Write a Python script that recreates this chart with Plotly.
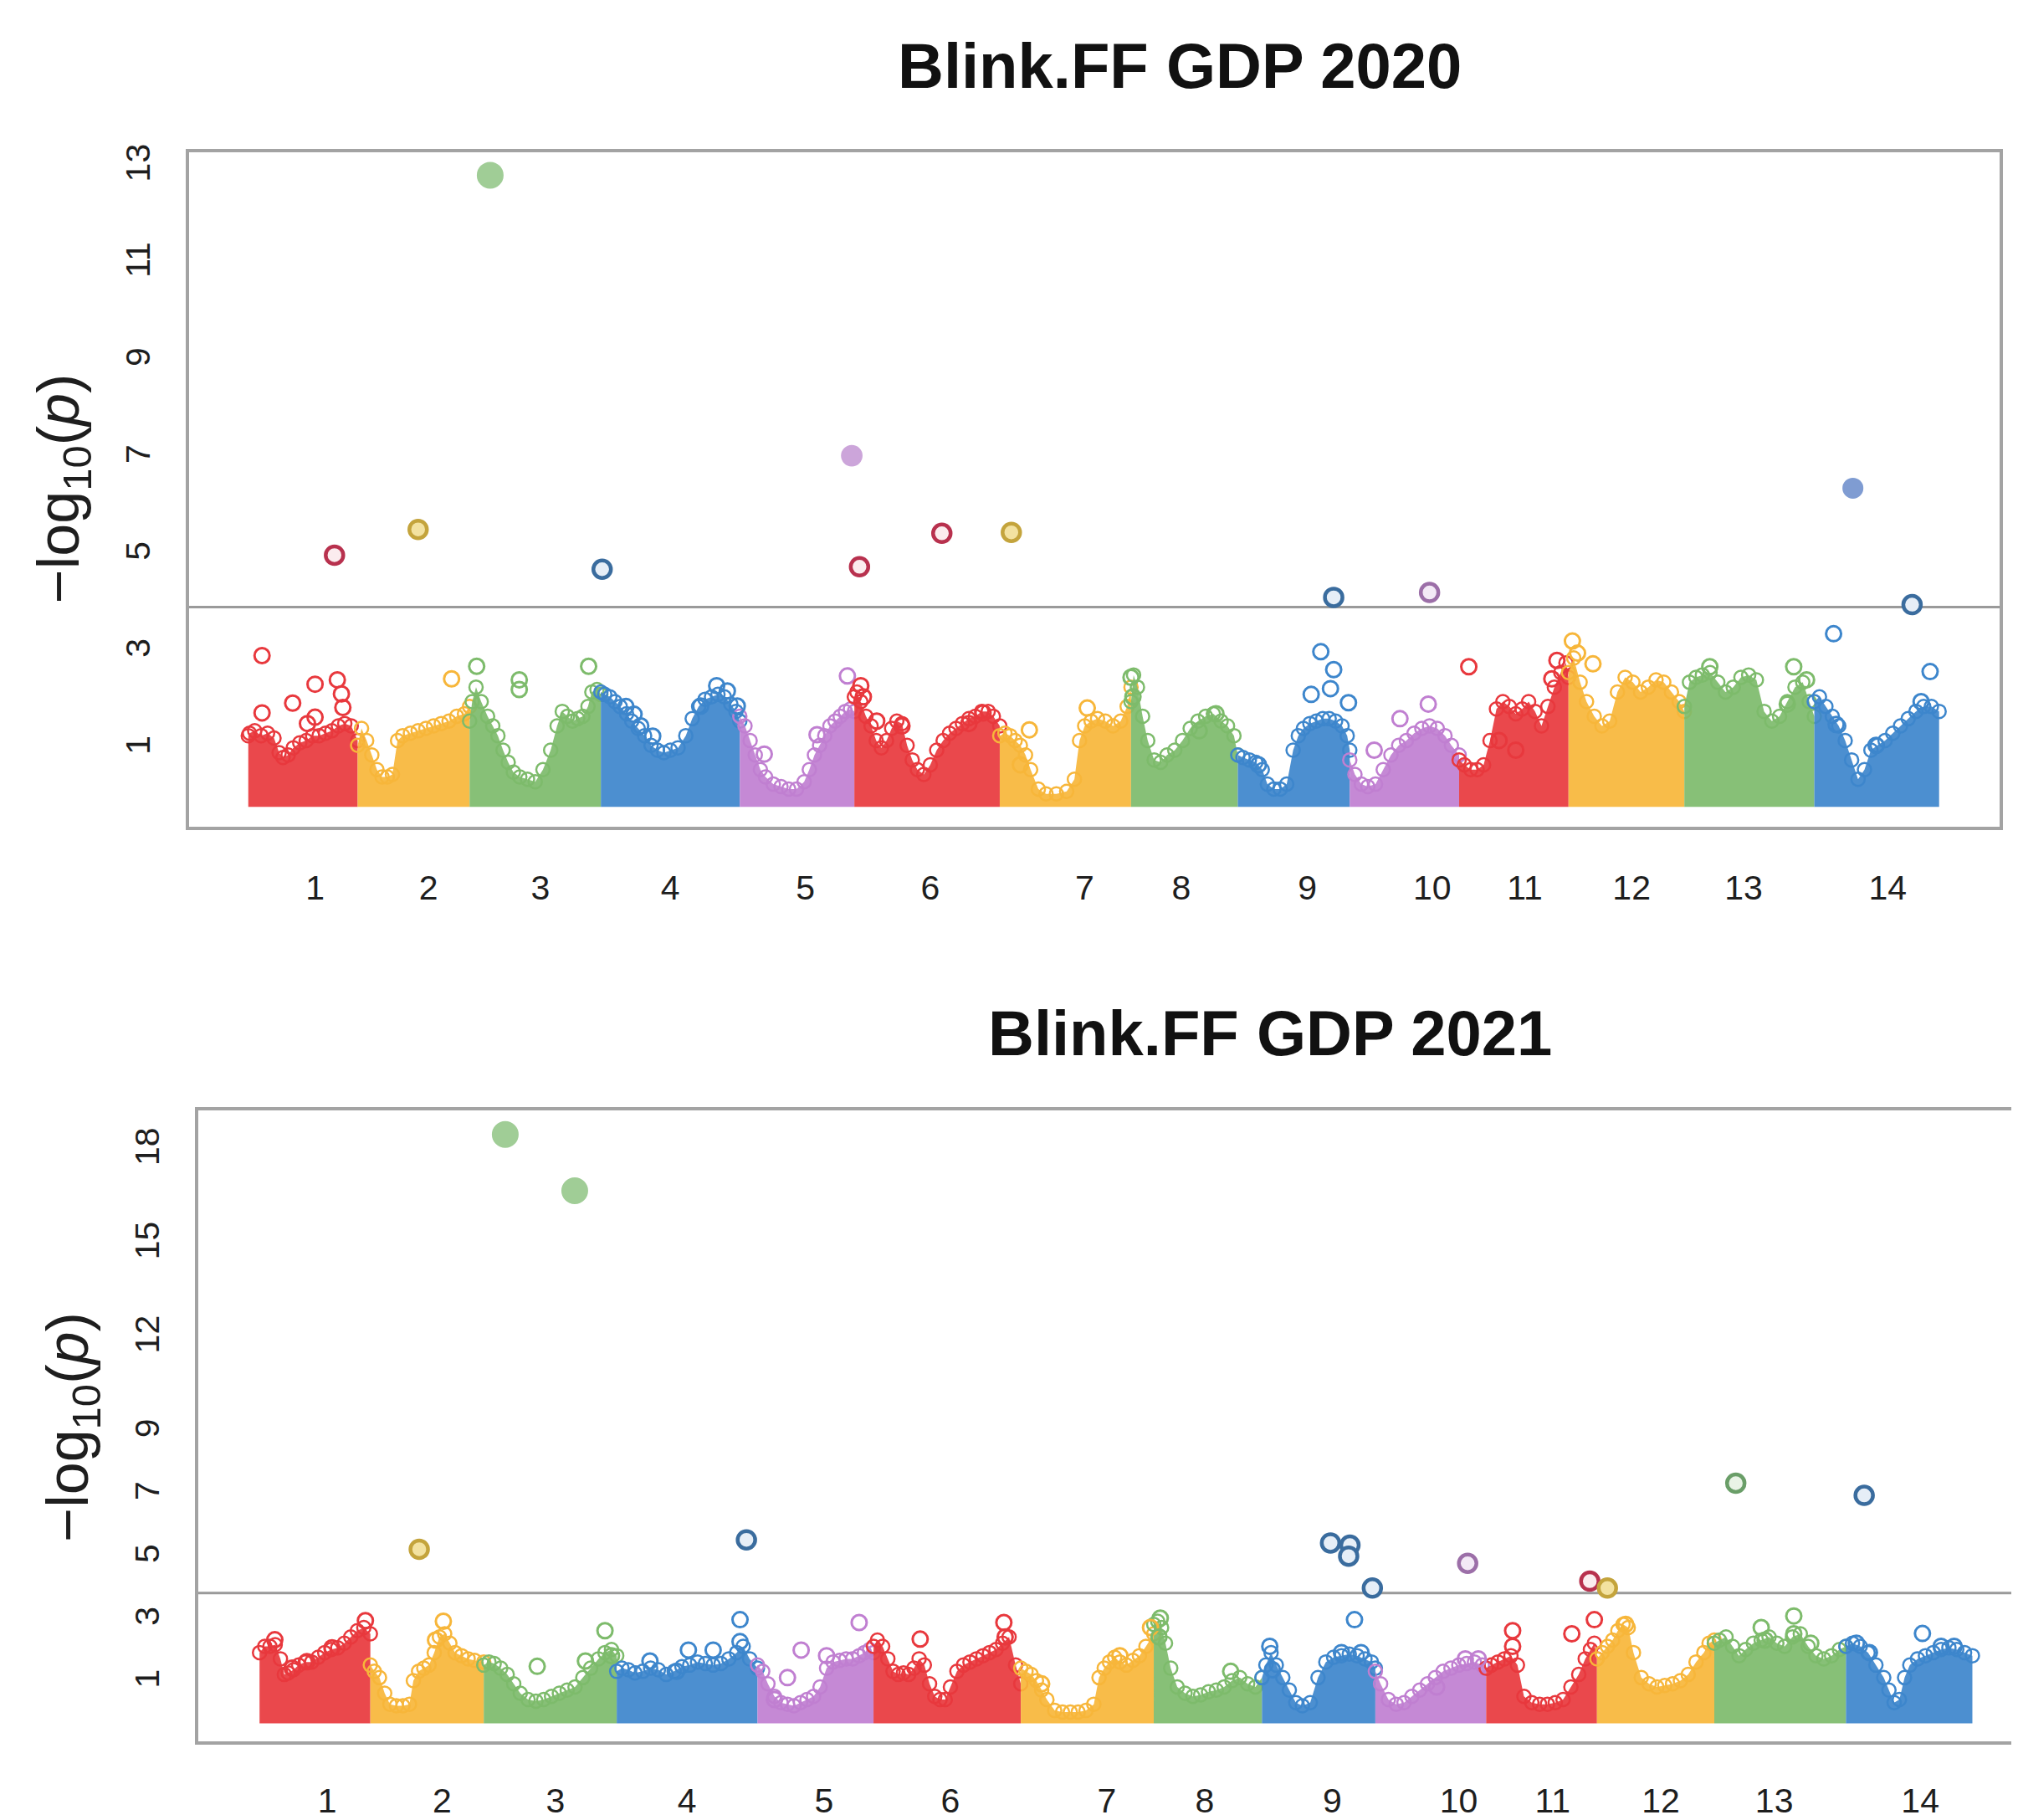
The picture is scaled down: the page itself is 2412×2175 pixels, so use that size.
import bisect
import plotly.graph_objects as go

# ---------------- genome layout (cumulative Mb) ----------------
CHR_LABELS = ["1", "2", "3", "4", "5", "6", "7", "8", "9", "10", "11", "12", "13", "14"]
CHR_START = [0, 85, 172, 274, 382, 471, 584, 686, 769, 856, 941, 1026, 1116, 1217]
CHR_END = [85, 172, 274, 382, 471, 584, 686, 769, 856, 941, 1026, 1116, 1217, 1314]
TICK_POS = [52, 140, 227, 328, 433, 530, 650, 725, 823, 920, 992, 1075, 1162, 1274]

Y_TICKS_2020 = [1, 3, 5, 7, 9, 11, 13]
Y_TICKS_2021 = [1, 3, 5, 7, 9, 12, 15, 18]
THRESH_2020 = 3.95
THRESH_2021 = 3.9

# ---------------- 2020: upper envelope of the dense SNP cloud, per chromosome ----------------
T01_POS = [0, 1, 5, 10, 15, 20, 24, 27, 31, 35, 40, 45, 50, 55, 60, 65, 70, 75, 80, 85]
T01_LOG = [1.3, 1.35, 1.4, 1.3, 1.35, 1.25, 0.95, 0.85, 0.9, 1.05, 1.15, 1.2, 1.3, 1.3, 1.35, 1.4, 1.5, 1.55, 1.5, 1.2]
T02_POS = [85, 88, 92, 96, 100, 104, 108, 112, 116, 120, 126, 132, 138, 144, 150, 156, 162, 168, 172]
T02_LOG = [1.1, 1.45, 1.2, 0.9, 0.6, 0.45, 0.45, 0.5, 1.2, 1.3, 1.35, 1.4, 1.45, 1.5, 1.55, 1.6, 1.7, 1.75, 1.9]
T03_POS = [172, 174, 177, 181, 186, 190, 194, 198, 202, 206, 211, 217, 223, 229, 235, 240, 244, 248, 252, 256, 260, 264, 267, 271, 274]
T03_LOG = [1.6, 2.0, 2.3, 2.0, 1.7, 1.5, 1.3, 1.0, 0.75, 0.55, 0.45, 0.4, 0.35, 0.6, 1.0, 1.5, 1.8, 1.7, 1.6, 1.65, 1.7, 1.9, 2.2, 2.25, 2.15]
T04_POS = [274, 277, 281, 285, 289, 294, 298, 303, 308, 313, 318, 323, 328, 334, 340, 345, 350, 355, 360, 365, 370, 375, 379, 382]
T04_LOG = [2.2, 2.15, 2.1, 2.0, 1.9, 1.75, 1.6, 1.45, 1.3, 1.1, 1.0, 0.95, 1.0, 1.05, 1.3, 1.65, 1.9, 2.05, 2.1, 2.15, 2.1, 1.95, 1.8, 1.6]
T05_POS = [382, 386, 390, 394, 398, 402, 408, 414, 420, 426, 432, 436, 440, 444, 448, 452, 456, 460, 464, 468, 471]
T05_LOG = [1.7, 1.5, 1.2, 0.9, 0.6, 0.45, 0.3, 0.25, 0.2, 0.2, 0.35, 0.6, 0.9, 1.1, 1.3, 1.5, 1.6, 1.7, 1.8, 1.85, 1.8]
T06_POS = [471, 473, 476, 480, 484, 488, 492, 496, 500, 504, 508, 512, 516, 520, 525, 530, 535, 540, 545, 550, 555, 560, 565, 570, 575, 579, 584]
T06_LOG = [2.1, 2.2, 2.0, 1.7, 1.5, 1.2, 1.05, 1.2, 1.45, 1.6, 1.55, 1.1, 0.8, 0.6, 0.5, 0.7, 1.0, 1.2, 1.35, 1.45, 1.55, 1.65, 1.7, 1.8, 1.8, 1.7, 1.5]
T07_POS = [584, 588, 592, 596, 600, 604, 608, 614, 620, 628, 636, 642, 646, 650, 655, 660, 666, 672, 678, 683, 686]
T07_LOG = [1.3, 1.35, 1.3, 1.2, 1.1, 0.9, 0.6, 0.2, 0.1, 0.1, 0.15, 0.4, 1.2, 1.5, 1.6, 1.65, 1.6, 1.5, 1.6, 1.9, 2.3]
T08_POS = [686, 688, 691, 695, 699, 704, 709, 714, 720, 726, 732, 738, 744, 750, 756, 761, 766, 769]
T08_LOG = [2.0, 2.55, 2.3, 1.7, 1.2, 0.8, 0.75, 0.9, 1.0, 1.2, 1.45, 1.6, 1.7, 1.75, 1.6, 1.5, 1.3, 0.9]
T09_POS = [769, 773, 778, 783, 788, 792, 797, 802, 807, 812, 816, 820, 825, 830, 835, 840, 845, 850, 854, 856]
T09_LOG = [0.9, 0.85, 0.8, 0.75, 0.6, 0.3, 0.2, 0.2, 0.3, 1.0, 1.3, 1.45, 1.55, 1.6, 1.65, 1.65, 1.6, 1.5, 1.3, 1.0]
T10_POS = [856, 860, 865, 870, 876, 882, 888, 894, 900, 906, 912, 918, 924, 930, 935, 941]
T10_LOG = [0.8, 0.5, 0.3, 0.25, 0.3, 0.6, 0.9, 1.1, 1.2, 1.35, 1.45, 1.5, 1.45, 1.3, 1.1, 0.9]
T11_POS = [941, 945, 950, 955, 960, 965, 970, 975, 980, 985, 990, 995, 1000, 1005, 1010, 1015, 1020, 1024, 1026]
T11_LOG = [0.8, 0.7, 0.6, 0.6, 0.7, 1.2, 1.85, 2.0, 1.9, 1.75, 1.85, 2.0, 1.8, 1.5, 1.9, 2.3, 2.6, 2.8, 2.5]
T12_POS = [1026, 1030, 1035, 1040, 1046, 1052, 1058, 1064, 1070, 1076, 1082, 1088, 1094, 1100, 1106, 1112, 1116]
T12_LOG = [2.6, 2.9, 2.4, 2.0, 1.7, 1.5, 1.6, 2.2, 2.5, 2.4, 2.2, 2.3, 2.45, 2.4, 2.2, 2.0, 1.8]
T13_POS = [1116, 1120, 1125, 1130, 1136, 1142, 1148, 1154, 1160, 1166, 1172, 1178, 1184, 1190, 1196, 1202, 1208, 1213, 1217]
T13_LOG = [1.9, 2.4, 2.5, 2.55, 2.6, 2.4, 2.2, 2.3, 2.5, 2.55, 2.45, 1.8, 1.6, 1.7, 2.0, 2.3, 2.4, 2.0, 1.7]
T14_POS = [1217, 1221, 1226, 1231, 1236, 1241, 1246, 1251, 1256, 1261, 1266, 1272, 1278, 1284, 1290, 1296, 1302, 1308, 1314]
T14_LOG = [2.0, 2.1, 1.9, 1.7, 1.5, 1.2, 0.8, 0.4, 0.6, 1.0, 1.1, 1.2, 1.35, 1.5, 1.65, 1.8, 1.9, 1.9, 1.8]

# 2020: individually visible SNPs above the cloud (below threshold)
TOP_SNP_POS = [10.7, 10.7, 34.5, 51.9, 51.9, 69.2, 72.4, 73.5, 46, 158, 177.5, 210.6, 210.6, 264.5,
               293.5, 299.8, 314.3, 351.6, 364, 372.3, 380, 305, 401, 442, 465.6, 476, 478, 488.4, 508, 571, 560,
               607, 652, 600, 686, 687.5, 739, 752, 785, 833.5, 843.5, 826, 841, 855, 875, 895, 917, 948.5, 972,
               985, 1017, 1013, 1029, 1045, 1033, 1135.8, 1201, 1211, 1196, 1232, 1234, 1307, 1265, 1300]
TOP_SNP_LOG = [2.95, 1.77, 1.97, 2.36, 1.68, 2.45, 2.16, 1.88, 1.55, 2.47, 2.73, 2.45, 2.25, 2.73,
               1.9, 1.74, 1.29, 1.91, 2.33, 2.22, 1.91, 1.5, 0.92, 1.32, 2.53, 2.33, 2.1, 1.6, 1.5, 1.77, 1.55,
               1.42, 1.87, 0.7, 2.5, 2.1, 1.4, 1.75, 0.7, 3.03, 2.66, 2.15, 2.27, 1.98, 1.0, 1.65, 1.95, 2.72, 1.2,
               1.0, 2.85, 2.47, 3.25, 2.78, 3.0, 2.72, 2.72, 2.45, 1.95, 3.4, 1.53, 2.62, 1.1, 2.0]
# 2020: significant SNPs (lead = filled, hit = ringed)
TOP_LEAD_POS = [188, 469, 1247]
TOP_LEAD_LOG = [12.85, 7.07, 6.4]
TOP_HIT_POS = [67, 132, 275, 475, 539, 593, 843.5, 918, 1293]
TOP_HIT_LOG = [5.02, 5.55, 4.73, 4.78, 5.47, 5.49, 4.15, 4.25, 4.0]

# ---------------- 2021 ----------------
B01_POS = [0, 4, 8, 12, 16, 19, 22, 26, 30, 35, 40, 45, 50, 55, 60, 65, 70, 75, 80, 85]
B01_LOG = [2.0, 2.2, 2.2, 2.25, 1.8, 1.3, 1.35, 1.45, 1.6, 1.7, 1.7, 1.85, 2.0, 2.1, 2.15, 2.3, 2.5, 2.7, 2.8, 2.6]
B02_POS = [85, 88, 92, 96, 100, 105, 110, 115, 118, 122, 126, 130, 134, 138, 142, 146, 150, 155, 160, 165, 172]
B02_LOG = [1.6, 1.4, 1.2, 0.7, 0.35, 0.3, 0.3, 0.35, 1.1, 1.4, 1.5, 1.6, 2.0, 2.5, 2.6, 2.3, 2.0, 1.9, 1.8, 1.75, 1.7]
B03_POS = [172, 176, 180, 185, 190, 195, 200, 206, 212, 218, 224, 230, 236, 242, 248, 254, 260, 265, 270, 274]
B03_LOG = [1.6, 1.7, 1.65, 1.5, 1.3, 1.0, 0.7, 0.5, 0.45, 0.5, 0.6, 0.7, 0.8, 0.9, 1.2, 1.5, 1.8, 2.0, 2.1, 1.9]
B04_POS = [274, 278, 283, 288, 294, 300, 306, 312, 318, 324, 330, 336, 342, 348, 354, 360, 366, 371, 376, 382]
B04_LOG = [1.4, 1.5, 1.45, 1.35, 1.4, 1.5, 1.45, 1.3, 1.4, 1.55, 1.6, 1.7, 1.65, 1.6, 1.65, 1.8, 2.0, 2.2, 1.8, 1.5]
B05_POS = [382, 386, 390, 395, 400, 405, 410, 415, 420, 425, 430, 435, 440, 445, 450, 455, 460, 464, 468, 471]
B05_LOG = [1.6, 1.4, 1.0, 0.6, 0.4, 0.35, 0.3, 0.4, 0.5, 0.6, 0.9, 1.5, 1.7, 1.75, 1.8, 1.8, 1.9, 2.0, 2.1, 2.0]
B06_POS = [471, 474, 478, 482, 486, 490, 494, 498, 502, 506, 510, 514, 518, 522, 526, 530, 535, 540, 545, 550, 555, 560, 565, 570, 575, 580, 584]
B06_LOG = [2.2, 2.4, 2.2, 1.8, 1.4, 1.3, 1.35, 1.3, 1.5, 1.8, 1.6, 1.0, 0.6, 0.5, 0.5, 0.9, 1.4, 1.6, 1.7, 1.8, 1.9, 2.0, 2.1, 2.3, 2.5, 1.6, 1.0]
B07_POS = [584, 588, 592, 596, 600, 604, 610, 616, 622, 628, 634, 640, 644, 648, 652, 656, 660, 665, 670, 675, 680, 686]
B07_LOG = [1.5, 1.4, 1.3, 1.1, 0.8, 0.5, 0.15, 0.1, 0.1, 0.1, 0.15, 0.35, 1.2, 1.5, 1.7, 1.85, 1.7, 1.6, 1.75, 1.9, 2.2, 2.6]
B08_POS = [686, 689, 692, 695, 699, 704, 710, 716, 722, 728, 734, 740, 746, 752, 758, 764, 769]
B08_LOG = [2.9, 3.0, 2.8, 2.3, 1.5, 0.9, 0.7, 0.6, 0.65, 0.75, 0.8, 0.9, 1.1, 1.2, 1.0, 0.9, 1.2]
B09_POS = [769, 772, 776, 780, 785, 790, 795, 800, 806, 812, 818, 824, 830, 836, 842, 848, 853, 856]
B09_LOG = [1.2, 1.6, 2.0, 1.6, 1.2, 0.8, 0.4, 0.3, 0.4, 1.2, 1.7, 1.85, 1.9, 1.95, 1.9, 1.8, 1.7, 1.5]
B10_POS = [856, 860, 866, 872, 878, 884, 890, 896, 902, 908, 914, 920, 926, 932, 938, 941]
B10_LOG = [1.4, 1.0, 0.5, 0.35, 0.4, 0.6, 0.8, 1.0, 1.2, 1.4, 1.5, 1.6, 1.65, 1.7, 1.6, 1.5]
B11_POS = [941, 945, 950, 955, 960, 965, 970, 976, 982, 988, 994, 1000, 1006, 1012, 1017, 1021, 1024, 1026]
B11_LOG = [1.5, 1.6, 1.7, 1.8, 1.9, 1.6, 0.6, 0.4, 0.35, 0.35, 0.4, 0.5, 0.9, 1.3, 1.8, 2.1, 2.3, 1.8]
B12_POS = [1026, 1030, 1034, 1038, 1042, 1046, 1050, 1054, 1060, 1066, 1072, 1078, 1084, 1090, 1096, 1102, 1108, 1112, 1116]
B12_LOG = [1.8, 2.0, 2.2, 2.4, 2.7, 2.9, 2.8, 2.0, 1.2, 1.0, 0.9, 0.95, 1.0, 1.1, 1.3, 1.7, 2.0, 2.3, 2.4]
B13_POS = [1116, 1120, 1125, 1130, 1135, 1140, 1146, 1152, 1158, 1164, 1170, 1176, 1182, 1188, 1194, 1200, 1206, 1212, 1217]
B13_LOG = [2.3, 2.4, 2.5, 2.2, 1.9, 2.1, 2.3, 2.4, 2.5, 2.3, 2.2, 2.5, 2.6, 2.2, 1.9, 1.8, 1.9, 2.1, 2.2]
B14_POS = [1217, 1222, 1228, 1234, 1240, 1246, 1250, 1254, 1258, 1262, 1266, 1272, 1278, 1284, 1290, 1296, 1302, 1308, 1314]
B14_LOG = [2.2, 2.3, 2.2, 2.0, 1.6, 1.2, 0.8, 0.4, 0.5, 1.2, 1.6, 1.8, 1.9, 2.0, 2.1, 2.15, 2.1, 2.0, 1.9]

BOT_SNP_POS = [11.7, 36.3, 55.6, 81.2, 25, 141, 135, 213, 250, 265, 270, 299.5, 329, 348, 368.6, 368.6, 320,
               415.5, 405, 435, 460, 395, 506.8, 571, 572, 600, 660, 691, 683.5, 690, 745, 775, 777, 840, 830, 845,
               903, 925, 935, 961.3, 961.3, 1006.7, 1024, 1048, 1152, 1177, 1177, 1155, 1190, 1225, 1235, 1275.7, 1300, 1290]
BOT_SNP_LOG = [2.41, 1.71, 2.15, 3.02, 1.5, 3.0, 2.4, 1.56, 1.73, 2.7, 1.9, 1.73, 2.08, 2.08, 3.05, 2.35, 1.4,
               2.08, 1.2, 1.9, 2.96, 0.5, 2.43, 2.96, 2.5, 1.0, 1.9, 3.1, 2.8, 2.5, 1.4, 2.2, 1.45, 3.05, 2.0, 2.0,
               0.9, 1.8, 1.8, 2.7, 2.2, 2.6, 3.05, 2.9, 2.8, 3.17, 2.6, 2.4, 2.3, 2.3, 2.0, 2.61, 2.2, 2.2]
BOT_LEAD_POS = [188.5, 241.8]
BOT_LEAD_LOG = [18.55, 16.75]
BOT_HIT_POS = [122.5, 373.5, 821.6, 836.5, 835.5, 853.7, 926.8, 1020.5, 1034, 1132.5, 1231]
BOT_HIT_LOG = [5.3, 5.6, 5.5, 5.43, 5.08, 4.06, 4.85, 4.28, 4.06, 7.41, 7.02]

TOP_ENV = [(T01_POS, T01_LOG), (T02_POS, T02_LOG), (T03_POS, T03_LOG), (T04_POS, T04_LOG), (T05_POS, T05_LOG),
           (T06_POS, T06_LOG), (T07_POS, T07_LOG), (T08_POS, T08_LOG), (T09_POS, T09_LOG), (T10_POS, T10_LOG),
           (T11_POS, T11_LOG), (T12_POS, T12_LOG), (T13_POS, T13_LOG), (T14_POS, T14_LOG)]
BOT_ENV = [(B01_POS, B01_LOG), (B02_POS, B02_LOG), (B03_POS, B03_LOG), (B04_POS, B04_LOG), (B05_POS, B05_LOG),
           (B06_POS, B06_LOG), (B07_POS, B07_LOG), (B08_POS, B08_LOG), (B09_POS, B09_LOG), (B10_POS, B10_LOG),
           (B11_POS, B11_LOG), (B12_POS, B12_LOG), (B13_POS, B13_LOG), (B14_POS, B14_LOG)]

# ---------------- styling ----------------
SCREEN_W, SCREEN_H = 2412, 2175
PAGE_MARGIN = 8  # default <body> margin of the html page
W, H = SCREEN_W - PAGE_MARGIN, SCREEN_H - PAGE_MARGIN
PALETTE = ["#E8383D", "#F7B63A", "#7DBB6B", "#3D86CC", "#C07FD1"]
RING = ["#B8314E", "#C4A43C", "#6A9E68", "#3A6C9E", "#9C6FA8"]
HIT_FILL = ["#FBECEE", "#F3E2A0", "#E9F3E6", "#E6EEF7", "#F3EAF6"]
LEAD = ["#E8383D", "#E9B23A", "#79B86B", "#4A73C0", "#B77FCB"]
FONT = "Liberation Sans, Arial, sans-serif"
AXIS_COLOR = "#a3a3a3"
CLOUD_SIZE = 16
SNP_SIZE = 18
HIT_SIZE = 21

# panel geometry in screenshot pixels
TOP_BOX = dict(l=226, r=2390, t=175, b=995)
BOT_BOX = dict(l=237, r=SCREEN_W, t=1340, b=2107)
TOP_XR = [-46, 1361]
BOT_XR = [-47, 1349]
TOP_YR = [-0.58, 13.32]
BOT_YR = [-0.84, 19.31]


def px(xs):
    return (xs - PAGE_MARGIN) / W


def py(ys):
    return 1 - (ys - PAGE_MARGIN) / H


def chrom_index(pos):
    return max(0, bisect.bisect_right(CHR_START, pos) - 1)


fig = go.Figure()


def add_panel(env, snp_pos, snp_log, lead_pos, lead_log, hit_pos, hit_log, xa, ya, yr, box):
    px_per_unit = (box["b"] - box["t"]) / (yr[1] - yr[0])
    base = -(CLOUD_SIZE / 2 + 2) / px_per_unit
    for i, (pos, lg) in enumerate(env):
        col = PALETTE[i % 5]
        xs = [pos[0]] + list(pos) + [pos[-1]]
        ys = [base] + list(lg) + [base]
        fig.add_trace(go.Scatter(x=xs, y=ys, mode="lines", fill="toself", fillcolor=col,
                                 line=dict(width=0, color=col), opacity=0.92,
                                 xaxis=xa, yaxis=ya, hoverinfo="skip", showlegend=False))
        fig.add_trace(go.Scatter(x=pos, y=lg, mode="markers",
                                 marker=dict(symbol="circle-open", size=CLOUD_SIZE, color=col, line=dict(width=2.5)),
                                 xaxis=xa, yaxis=ya, hoverinfo="skip", showlegend=False))
    cols = [PALETTE[chrom_index(p) % 5] for p in snp_pos]
    fig.add_trace(go.Scatter(x=snp_pos, y=snp_log, mode="markers",
                             marker=dict(symbol="circle-open", size=SNP_SIZE, color=cols, line=dict(width=3)),
                             xaxis=xa, yaxis=ya, hoverinfo="skip", showlegend=False))
    rcols = [RING[chrom_index(p) % 5] for p in hit_pos]
    hfill = [HIT_FILL[chrom_index(p) % 5] for p in hit_pos]
    fig.add_trace(go.Scatter(x=hit_pos, y=hit_log, mode="markers",
                             marker=dict(symbol="circle", size=HIT_SIZE, color=hfill,
                                         line=dict(width=4.5, color=rcols)),
                             xaxis=xa, yaxis=ya, hoverinfo="skip", showlegend=False))
    lcols = [LEAD[chrom_index(p) % 5] for p in lead_pos]
    lsizes = [min(30, 16 + 1.1 * v) for v in lead_log]
    fig.add_trace(go.Scatter(x=lead_pos, y=lead_log, mode="markers",
                             marker=dict(symbol="circle", size=lsizes, color=lcols,
                                         line=dict(width=2, color=lcols)),
                             xaxis=xa, yaxis=ya, hoverinfo="skip", showlegend=False))


add_panel(TOP_ENV, TOP_SNP_POS, TOP_SNP_LOG, TOP_LEAD_POS, TOP_LEAD_LOG, TOP_HIT_POS, TOP_HIT_LOG,
          "x", "y", TOP_YR, TOP_BOX)
add_panel(BOT_ENV, BOT_SNP_POS, BOT_SNP_LOG, BOT_LEAD_POS, BOT_LEAD_LOG, BOT_HIT_POS, BOT_HIT_LOG,
          "x2", "y2", BOT_YR, BOT_BOX)

# threshold lines
fig.add_shape(type="line", xref="x domain", yref="y", x0=0, x1=1, y0=THRESH_2020, y1=THRESH_2020,
              line=dict(color="#9a9a9a", width=3), layer="below")
fig.add_shape(type="line", xref="x2 domain", yref="y2", x0=0, x1=1, y0=THRESH_2021, y1=THRESH_2021,
              line=dict(color="#9a9a9a", width=3), layer="below")

tickfont = dict(family=FONT, size=41, color="#1e1e1e")

common_x = dict(tickvals=TICK_POS, ticktext=CHR_LABELS, ticks="", showgrid=False, zeroline=False,
                showline=True, linecolor=AXIS_COLOR, linewidth=4, mirror=True, tickfont=tickfont)
common_y = dict(ticks="", showgrid=False, zeroline=False, showline=True, linecolor=AXIS_COLOR,
                linewidth=4, tickangle=-90, tickfont=tickfont, ticklabelstandoff=27)

fig.update_layout(
    width=W, height=H, autosize=False,
    margin=dict(l=0, r=0, t=0, b=0),
    paper_bgcolor="white", plot_bgcolor="white",
    showlegend=False,
    xaxis=dict(domain=[px(TOP_BOX["l"]), px(TOP_BOX["r"])], range=TOP_XR, anchor="y",
               ticklabelstandoff=34, **common_x),
    yaxis=dict(domain=[py(TOP_BOX["b"]), py(TOP_BOX["t"])], range=TOP_YR, anchor="x",
               tickvals=Y_TICKS_2020, mirror=True, **common_y),
    xaxis2=dict(domain=[px(BOT_BOX["l"]), 1.0], range=BOT_XR, anchor="y2",
                ticklabelstandoff=32, **common_x),
    yaxis2=dict(domain=[py(BOT_BOX["b"]), py(BOT_BOX["t"])], range=BOT_YR, anchor="x2",
                tickvals=Y_TICKS_2021, mirror=False, **common_y),
)

title_font = dict(family=FONT, size=76, color="#111111")
ylab_font = dict(family=FONT, size=70, color="#1e1e1e")
ylab = "\u2212log<sub>10</sub>(<i>p</i>)"
fig.add_annotation(text="<b>Blink.FF GDP 2020</b>", xref="paper", yref="paper", x=px(1410), y=py(70),
                   xanchor="center", yanchor="middle", showarrow=False, font=title_font)
fig.add_annotation(text="<b>Blink.FF GDP 2021</b>", xref="paper", yref="paper", x=px(1518), y=py(1246),
                   xanchor="center", yanchor="middle", showarrow=False, font=title_font)
fig.add_annotation(text=ylab, xref="paper", yref="paper", x=px(75), y=py(584), textangle=-90,
                   xanchor="center", yanchor="middle", showarrow=False, font=ylab_font)
fig.add_annotation(text=ylab, xref="paper", yref="paper", x=px(86), y=py(1725), textangle=-90,
                   xanchor="center", yanchor="middle", showarrow=False, font=ylab_font)

fig.write_html("out.html")
